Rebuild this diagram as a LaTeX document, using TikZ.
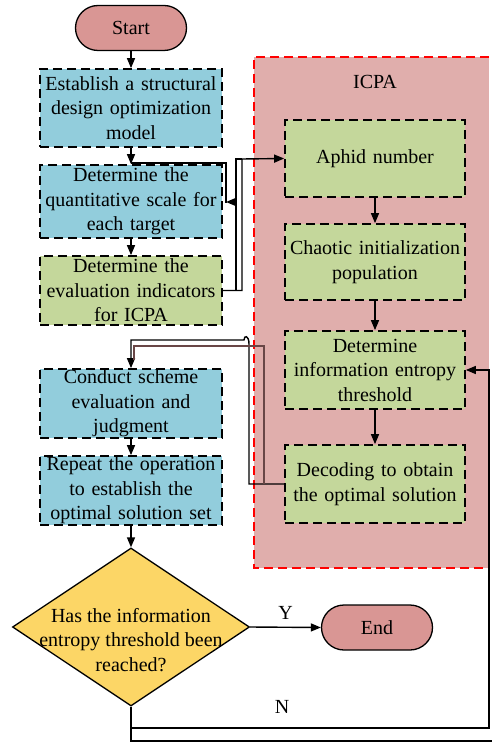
\documentclass[tikz,border=0pt]{standalone}
\usepackage{fontspec}
\setmainfont{Liberation Serif}
\usetikzlibrary{arrows.meta,shapes.geometric}
\definecolor{boxblue}{RGB}{146,205,220}
\definecolor{boxgreen}{RGB}{196,215,155}
\definecolor{icpafill}{RGB}{224,174,172}
\definecolor{termfill}{RGB}{217,150,148}
\definecolor{diafill}{RGB}{252,214,102}
\definecolor{brownline}{RGB}{105,70,70}
\tikzset{
  txt/.style={font=\fontsize{20}{24.5}\selectfont, align=center, inner sep=0pt},
  stepbox/.style={txt, rectangle, draw=black, line width=1.7pt, dash pattern=on 9pt off 5pt, minimum width=182pt, text width=180pt},
  bluebox/.style={stepbox, fill=boxblue},
  greenbox/.style={stepbox, fill=boxgreen},
  icpabox/.style={stepbox, fill=boxgreen, minimum width=180pt, text width=178pt},
  term/.style={txt, rectangle, draw=black, line width=1.3pt, fill=termfill, rounded corners=22.5pt, minimum width=111pt, minimum height=45pt},
  conn/.style={draw=black, line width=1.4pt},
  arr/.style={conn, -{Triangle[length=10pt,width=8pt]}},
}
\begin{document}
\begin{tikzpicture}[x=1pt,y=-1pt]
\useasboundingbox (0,0) rectangle (492,743);
% ICPA region
\fill[icpafill] (254,57) rectangle (489,568);
\draw[red, line width=1.4pt, dash pattern=on 9pt off 5pt] (489,57) -- (254,57) -- (254,568) -- (489,568);
\node[txt] (icpa) at (375,82) {ICPA};

% left column
\node[term] (start) at (131,28) {Start};
\node[bluebox, minimum height=78pt] (b1) at (131,108) {Establish a structural\\design optimization\\model};
\node[bluebox, minimum height=73pt] (b2) at (131,201.5) {Determine the\\quantitative scale for\\each target};
\node[greenbox, minimum height=69pt] (b3) at (131,290.5) {Determine the\\evaluation indicators\\for ICPA};
\node[bluebox, minimum height=69pt] (b4) at (131,403.5) {Conduct scheme\\evaluation and\\judgment};
\node[bluebox, minimum height=69pt] (b5) at (131,490.5) {Repeat the operation\\to establish the\\optimal solution set};
\node[diamond, draw=black, line width=1.3pt, fill=diafill, minimum width=237pt, minimum height=158pt, inner sep=0pt] (dia) at (131,627) {};
\node[txt] (diatext) at (131,640) {Has the information\\entropy threshold been\\reached?};
\node[term] (end) at (377,627.5) {End};

% ICPA column
\node[icpabox, minimum height=77pt] (aph) at (375,158.5) {Aphid number};
\node[icpabox, minimum height=76pt] (cha) at (375,262) {Chaotic initialization\\population};
\node[icpabox, minimum height=78pt] (det) at (375,370) {Determine\\information entropy\\threshold};
\node[icpabox, minimum height=78pt] (dec) at (375,484) {Decoding to obtain\\the optimal solution};

% coordinates
\coordinate (j1) at (131,163);
\coordinate (j2) at (226,203);
\coordinate (j3) at (236,202);
\coordinate (j4) at (226,202);
\coordinate (p1) at (242,290.5);
\coordinate (p2) at (242,159);
\coordinate (q1) at (236,290.5);
\coordinate (q2) at (236,159);
\coordinate (r1) at (249,484);
\coordinate (r2) at (249,344);
\coordinate (r3) at (244,340);
\coordinate (r4) at (131,340);
\coordinate (s1) at (134,346);
\coordinate (s2) at (264,346);
\coordinate (s3) at (264,484);
\coordinate (s4) at (134,360);
\coordinate (n1) at (131,728);
\coordinate (n2) at (489,728);
\coordinate (n3) at (489,370);
\coordinate (m1) at (131,741);
\coordinate (m2) at (492,741);

% connectors
\draw[arr] (start) -- (b1);
\draw[arr] (b1) -- (b2);
\draw[conn] (j1) -| (j2);
\draw[arr] (j3) -- (j4);
\draw[arr] (b2) -- (b3);
\draw[arr] (b3.east) -- (p1) -- (p2) -- (aph.west);
\draw[conn] (q1) -- (q2) -- (p2);
\draw[arr] (aph) -- (cha);
\draw[arr] (cha) -- (det);
\draw[arr] (det) -- (dec);
\draw[arr] (dec.west) -- (r1) -- (r2) .. controls (249,335) and (244,335) .. (r3) -- (r4) -- (b4.north);
\draw[draw=brownline, line width=1.2pt] (s4) -- (s1) -- (s2) -- (s3);
\draw[arr] (b4) -- (b5);
\draw[arr] (b5) -- (dia);
\draw[arr] (dia.east) -- node[txt, above=7pt] (ylab) {Y} (end.west);
\draw[arr] (dia.south) -- (n1) -- (n2) -- (n3) -- (det.east);
\draw[conn] (n1) -- (m1) -- (m2);
\node[txt] (nlab) at (282,707) {N};
\end{tikzpicture}
\end{document}
